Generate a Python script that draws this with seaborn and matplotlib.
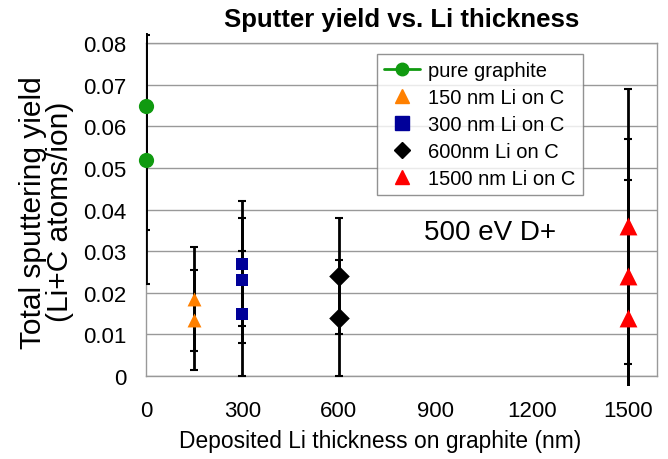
import numpy as np
import pandas as pd
import matplotlib
matplotlib.use('Agg')
from matplotlib import pyplot as plt
from matplotlib.lines import Line2D
from matplotlib.patches import Rectangle
import seaborn as sns

sns.set_style('white')
plt.rcParams['font.family'] = ['Liberation Sans', 'DejaVu Sans']
plt.rcParams['text.color'] = 'black'
plt.rcParams['axes.labelcolor'] = 'black'
plt.rcParams['xtick.color'] = 'black'
plt.rcParams['ytick.color'] = 'black'

# 数据：厚度 / 溅射产额 / 误差棒
series = ['pure graphite', '150 nm Li on C', '300 nm Li on C', '600nm Li on C', '1500 nm Li on C']
thick = [[0, 0], [150, 150], [300, 300, 300], [600, 600], [1500, 1500, 1500]]
yld = [[0.065, 0.052], [0.0185, 0.0135], [0.027, 0.023, 0.015], [0.024, 0.014], [0.036, 0.024, 0.014]]
err = [[0.030, 0.030], [0.0125, 0.0120], [0.015, 0.015, 0.015], [0.014, 0.014], [0.033, 0.033, 0.033]]

colors = ['#109a10', '#ff8000', '#000099', '#000000', '#ff0000']
markers = ['o', '^', 's', 'D', '^']
sizes = [120, 100, 70, 110, 165]

rows = []
for s, xs, ys, es in zip(series, thick, yld, err):
    for x, y, e in zip(xs, ys, es):
        rows.append({'series': s, 'x': x, 'y': y, 'e': e})
df = pd.DataFrame(rows)

fig = plt.figure(figsize=(6.68, 4.60), dpi=100)
ax = fig.add_axes([0.2186, 0.1804, 0.7649, 0.7236])

ax.set_xlim(0, 1590)
ax.set_ylim(0, 0.08)
ax.set_xticks([0, 300, 600, 900, 1200, 1500])
ax.set_yticks(np.arange(0, 0.081, 0.01))
ax.set_yticklabels(['0'] + ['%.2f' % v for v in np.arange(0.01, 0.081, 0.01)])
ax.yaxis.grid(True, color='#999999', lw=1)
ax.set_axisbelow(True)
for sp in ax.spines.values():
    sp.set_color('#999999')
    sp.set_linewidth(1)
ax.tick_params(axis='both', direction='out', length=5, color='#999999', labelsize=16)
ax.tick_params(axis='y', pad=9)
ax.tick_params(axis='x', pad=12)

# 误差棒，稍微超出绘图区再裁剪
clip = Rectangle((0, -0.03), 1, 1.061, transform=ax.transAxes, facecolor='none', edgecolor='none')
ax.add_patch(clip)
eb = ax.errorbar(df['x'], df['y'], yerr=df['e'], fmt='none', ecolor='black',
                 elinewidth=2, capsize=3, capthick=1.5, zorder=3)
for art in list(eb.lines[1]) + list(eb.lines[2]):
    art.set_clip_path(clip)

for s, c, m, sz in zip(series, colors, markers, sizes):
    sub = df[df['series'] == s]
    sns.scatterplot(data=sub, x='x', y='y', color=c, marker=m, s=sz, edgecolor=c,
                    linewidth=0, ax=ax, zorder=4, clip_on=False, legend=False)

handles = [Line2D([], [], color=colors[0], marker='o', markersize=9, lw=2)]
for c, m in zip(colors[1:], markers[1:]):
    handles.append(Line2D([], [], color=c, marker=m, markersize=10 if m != 'D' else 8, lw=0))
leg = ax.legend(handles, series, loc='upper left', bbox_to_anchor=(0.452, 0.967), fontsize=14.5,
                frameon=True, fancybox=False, edgecolor='#777777', borderpad=0.35,
                labelspacing=0.4, handlelength=1.8, handletextpad=0.4, borderaxespad=0)
leg.get_frame().set_linewidth(1)

ax.text(0.673, 0.432, '500 eV D+', transform=ax.transAxes, fontsize=20, ha='center', va='center')

ax.set_xlabel('Deposited Li thickness on graphite (nm)', fontsize=16.4)
ax.xaxis.set_label_coords(0.458, -0.158)
ax.set_ylabel('Total sputtering yield\n(Li+C atoms/ion)', fontsize=21.5, linespacing=0.95)
ax.yaxis.set_label_coords(-0.141, 0.495)
ax.set_title('Sputter yield vs. Li thickness', fontsize=18.5, fontweight='bold', pad=12)

plt.savefig('out.png', dpi=100)
